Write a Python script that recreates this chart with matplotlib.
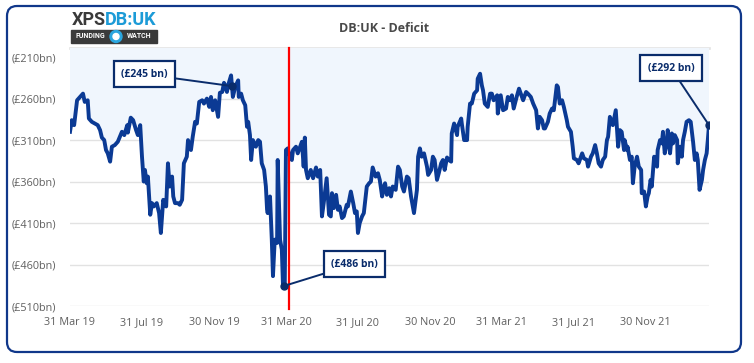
import matplotlib.pyplot as plt
import pandas as pd
from matplotlib.patches import FancyBboxPatch, Rectangle, Ellipse

# deficit readings (days after 31 Mar 2019, £bn)
start = pd.Timestamp("2019-03-31")
days = [
    0, 3, 7, 12, 17, 22, 25, 30, 32, 37, 42, 47, 51, 54, 58, 61, 64, 68, 71, 76,
    81, 88, 92, 97, 98, 103, 107, 112, 115, 119, 122, 125,
    127, 130, 132, 136, 139, 142, 147, 151, 154, 158, 163, 166, 169, 173, 175, 178,
    183, 186, 190, 193, 198, 200, 205, 208, 212, 215, 219, 224, 227, 232, 236, 239,
    242, 246, 251, 254, 258, 261,
    263, 266, 268, 273, 276, 280, 285, 286, 290, 293, 297, 300, 302, 305, 307, 310,
    315, 319, 322, 325, 329, 332, 334, 335, 339, 342, 344, 347, 351, 352, 356, 359,
    361, 364, 366, 369, 373, 376, 378, 383, 386, 390, 393, 396,
    398, 400, 403, 408, 412, 417, 420, 424, 427, 430, 435, 439, 442, 444, 447, 451,
    454, 457, 461, 464, 469, 471, 476, 480, 483, 486, 488, 491, 495, 498, 503, 507,
    510, 513, 518, 522, 525, 529, 532,
    534, 537, 541, 544, 547, 552, 556, 559, 563, 566, 571, 574, 578, 581, 583, 588,
    590, 593, 596, 600, 605, 607, 612, 615, 618, 622, 625, 629, 632, 635, 639, 642,
    646, 647, 651, 656, 657, 663, 664, 668,
    669, 673, 674, 678, 681, 685, 690, 691, 695, 698, 700, 703, 708, 712, 715, 718,
    724, 725, 730, 734, 739, 742, 746, 749, 752, 757, 761, 764, 768, 773, 776, 781,
    785, 790, 793, 796, 800, 803,
    805, 810, 813, 817, 820, 825, 827, 830, 834, 837, 842, 844, 849, 852, 854, 859,
    862, 868, 871, 876, 878, 883, 886, 890, 893, 896, 900, 903, 907, 910, 912, 915,
    918, 920, 925, 929, 932, 935, 939,
    940, 944, 945, 949, 952, 954, 957, 961, 964, 968, 969, 973, 976, 979, 981, 984,
    986, 990, 995, 996, 1000, 1003, 1005, 1008, 1012, 1013, 1017, 1020, 1022, 1025,
    1029, 1030, 1034, 1037, 1039, 1042, 1045, 1049, 1052, 1056, 1059, 1062, 1064,
    1067, 1071, 1073, 1076, 1079, 1081, 1083,
]
deficit = [
    300, 286, 292, 262, 258, 254, 264, 262, 284, 288, 290, 292, 298, 307, 310, 322,
    326, 336, 318, 316, 312, 300, 304, 292, 301, 283, 286, 298, 304, 292, 330, 360,
    346, 362, 354, 400, 386, 390, 386, 398, 422, 382, 390, 338, 366, 354, 378, 386,
    386, 388, 382, 338, 330, 310, 322, 306, 288, 290, 264, 262, 266, 260, 270, 258,
    274, 262, 282, 253, 252, 241,
    244, 252, 244, 232, 258, 246, 238, 258, 254, 262, 268, 294, 288, 304, 334, 310,
    318, 310, 312, 338, 346, 366, 394, 398, 378, 430, 474, 430, 434, 334, 430, 442,
    486, 486, 322, 320, 330, 334, 322, 318, 326, 318, 312, 342,
    307, 346, 356, 346, 356, 343, 354, 346, 402, 386, 356, 400, 402, 374, 392, 376,
    394, 390, 404, 402, 388, 390, 372, 386, 398, 396, 422, 410, 402, 398, 366, 362,
    360, 343, 354, 350, 358, 378, 366,
    362, 376, 368, 378, 366, 370, 342, 346, 366, 372, 354, 356, 378, 390, 398, 370,
    330, 320, 330, 326, 342, 352, 346, 330, 334, 358, 350, 338, 334, 346, 331, 334,
    336, 302, 290, 304, 294, 284, 290, 310,
    310, 310, 294, 266, 266, 254, 250, 236, 230, 244, 250, 266, 270, 254, 254, 262,
    256, 278, 256, 274, 272, 258, 262, 256, 272, 258, 248, 254, 262, 252, 254, 258,
    266, 274, 296, 282, 286, 296,
    296, 288, 278, 272, 274, 244, 246, 266, 262, 270, 286, 294, 300, 318, 332, 334,
    338, 326, 332, 334, 342, 330, 326, 316, 326, 338, 342, 334, 330, 310, 306, 282,
    288, 292, 274, 318, 298, 300, 322,
    310, 322, 318, 334, 330, 362, 342, 330, 342, 346, 374, 372, 390, 378, 374, 358,
    366, 330, 342, 322, 310, 314, 300, 326, 310, 298, 326, 302, 314, 304,
    310, 338, 318, 330, 310, 300, 288, 286, 288, 312, 334, 326, 334,
    370, 358, 346, 334, 326, 310, 292,
]

tick_dates = ["2019-03-31", "2019-07-31", "2019-11-30", "2020-03-31", "2020-07-31",
              "2020-11-30", "2021-03-31", "2021-07-31", "2021-11-30"]
tick_labels = ["31 Mar 19", "31 Jul 19", "30 Nov 19", "31 Mar 20", "31 Jul 20",
               "30 Nov 20", "31 Mar 21", "31 Jul 21", "30 Nov 21"]
y_ticks = [210, 260, 310, 360, 410, 460, 510]

mark_days = [275, 362, 1083]
mark_values = [245, 486, 292]
mark_labels = ["(£245 bn)", "(£486 bn)", "(£292 bn)"]
label_offsets = [(-88, 12), (71, 22), (-38, 57)]
marker_day = 371

navy = "#0a2c6b"
line_col = "#0b3a94"
grey = "#606060"

plt.rcParams["font.family"] = ["Open Sans", "DejaVu Sans"]

W, H = 754, 363
fig = plt.figure(figsize=(W / 100, H / 100), dpi=100)


def fx(x):
    return x / W


def fy(y):
    return 1 - y / H


ax = fig.add_axes([fx(70), fy(306), fx(709) - fx(70), fy(48) - fy(306)])

dates = start + pd.to_timedelta(days, unit="D")
neg = [-v for v in deficit]

ax.fill_between(dates, neg, 0, color="#f0f6fd", lw=0, zorder=1)
ax.plot(dates, neg, color=line_col, lw=2.8, solid_joinstyle="round", zorder=3)
ax.set_xlim(dates[0], dates[-1])
ax.set_ylim(-510, -199)

ax.set_yticks([-v for v in y_ticks])
ax.set_yticklabels(["(£%dbn)" % v for v in y_ticks])
ax.set_xticks(pd.to_datetime(tick_dates))
ax.set_xticklabels(tick_labels)
ax.tick_params(axis="both", length=0, labelsize=7.8, labelcolor=grey)
ax.tick_params(axis="y", pad=10)
ax.tick_params(axis="x", pad=8)
ax.yaxis.grid(True, color="#e2e2e2", lw=1)
ax.set_axisbelow(True)
for s in ax.spines.values():
    s.set_visible(False)
ax.plot([0, 1], [1, 1], transform=ax.transAxes, color="#e6e6e6", lw=2,
        clip_on=False, zorder=0)

ax.axvline(start + pd.Timedelta(days=marker_day), color="red", lw=1.6,
           ymin=-0.01, ymax=1, clip_on=False, zorder=4)

for d, v, lab, off in zip(mark_days, mark_values, mark_labels, label_offsets):
    pt = start + pd.Timedelta(days=d)
    ax.plot(pt, -v, "o", color=navy, ms=5, zorder=5)
    ax.annotate(lab, xy=(pt, -v), xytext=off, textcoords="offset pixels",
                ha="center", va="center", fontsize=7.5, fontweight="bold",
                color=navy, zorder=6,
                bbox=dict(boxstyle="square,pad=0.7", fc="white", ec=navy, lw=1.6),
                arrowprops=dict(arrowstyle="-", color=navy, lw=1.4,
                                shrinkA=0, shrinkB=0))

# title and logo
fig.text(fx(384), fy(28), "DB:UK - Deficit", ha="center", va="center",
         fontsize=9, fontweight="bold", color="#4a4a4a")
fig.text(fx(72), fy(20), "XPS", ha="left", va="center", fontsize=13,
         fontweight="bold", color="#3a3a3a", family="Roboto")
fig.text(fx(104.5), fy(20), "DB:UK", ha="left", va="center", fontsize=13,
         fontweight="bold", color="#1c9bd7", family="Roboto")
fig.add_artist(Rectangle((fx(71), fy(43)), fx(157) - fx(71), fy(30) - fy(43),
                         transform=fig.transFigure, color="#3a3a3a"))
fig.text(fx(90), fy(36.5), "FUNDING", ha="center", va="center", fontsize=5,
         fontweight="bold", color="white", family="Roboto")
fig.text(fx(139), fy(36.5), "WATCH", ha="center", va="center", fontsize=5,
         fontweight="bold", color="white", family="Roboto")
fig.add_artist(Ellipse((fx(116), fy(36.5)), fx(12), 12 / H,
                       transform=fig.transFigure, color="#2aa6df"))
fig.add_artist(Ellipse((fx(116), fy(36.5)), fx(6), 6 / H,
                       transform=fig.transFigure, color="white"))

border = FancyBboxPatch((7, H - 352), 734, 346,
                        boxstyle="round,pad=0,rounding_size=10",
                        transform=None, fc="none", ec="#10378a", lw=1.6)
fig.add_artist(border)

fig.savefig("out.png", dpi=100)
